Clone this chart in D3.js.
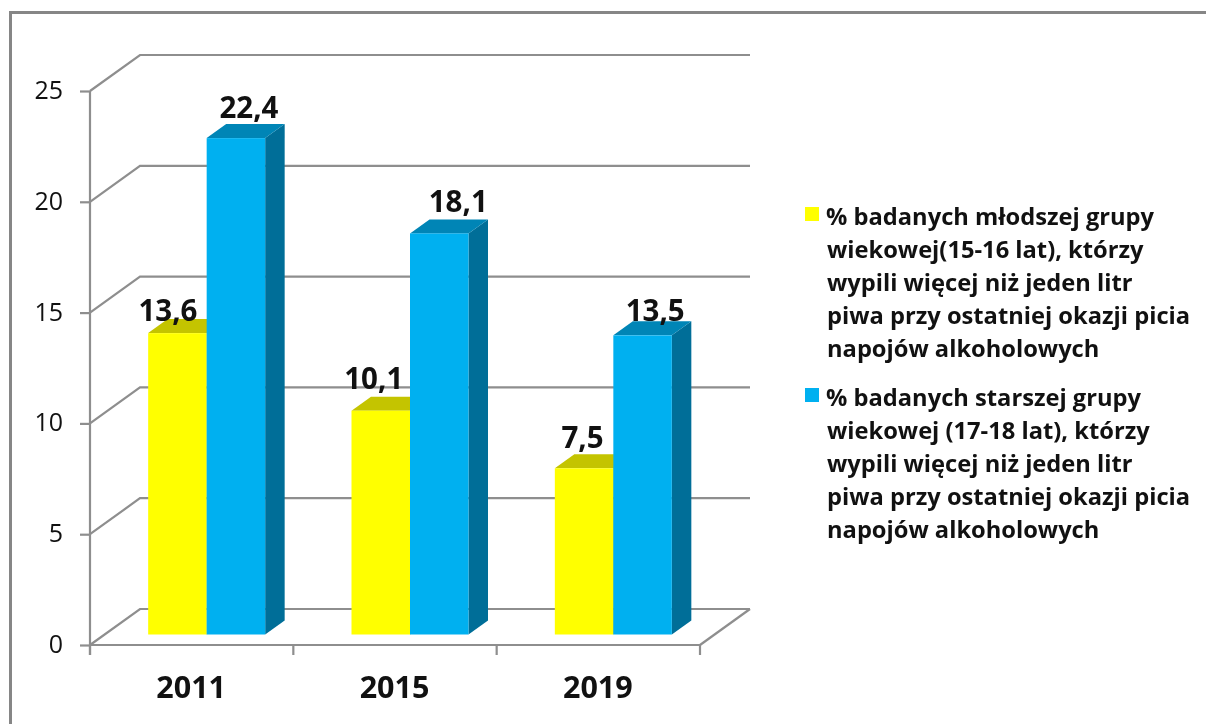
<!DOCTYPE html>
<html><head><meta charset="utf-8">
<script src="https://cdn.jsdelivr.net/npm/d3@7"></script>
<style>html,body{margin:0;padding:0;background:#fff;overflow:hidden}svg{display:block;filter:blur(0.45px)}
text{font-family:"Open Sans","Noto Sans",sans-serif;fill:#111}</style></head><body>
<svg id="c" width="1206" height="724"></svg>
<script>
const categories = ["2011","2015","2019"];
const younger = [13.6,10.1,7.5];
const older = [22.4,18.1,13.5];
const yTicks = [0,5,10,15,20,25];
const valueLabels = [["13,6","10,1","7,5"],["22,4","18,1","13,5"]];
const legendYounger = ["% badanych młodszej grupy","wiekowej(15-16 lat), którzy","wypili więcej niż jeden litr","piwa przy ostatniej okazji picia","napojów alkoholowych"];
const legendOlder = ["% badanych starszej grupy","wiekowej (17-18 lat), którzy","wypili więcej niż jeden litr","piwa przy ostatniej okazji picia","napojów alkoholowych"];
const seriesColors = [
 {front:"#FFFF00",top:"#C4C400",side:"#A8A800"},
 {front:"#00B0F0",top:"#0085B6",side:"#006E98"}];
const grey = "#8E8E8E";

const svg = d3.select("#c");
// outer frame
svg.append("path").attr("d","M10.5,760V12.5H1240").attr("fill","none").attr("stroke","#868686").attr("stroke-width",3);

const y = d3.scaleLinear().domain([0,25]).range([645,91]);
const x = d3.scaleBand().domain(categories).range([90,700]);
const wallDx = 50, wallDy = -36;      // depth of the chart box
const barDx = 15, barDy = -10.5;      // bar front plane shift
const depthDx = 19.5, depthDy = -14;  // bar depth
const barW = 58.5;
const inner = d3.scaleBand().domain([0,1]).range([-barW,barW]);

// walls and gridlines
const g = svg.append("g").attr("fill","none").attr("stroke",grey).attr("stroke-width",2.2);
yTicks.forEach(t=>{
  g.append("path").attr("d",`M${x.range()[0]},${y(t)}L${x.range()[0]+wallDx},${y(t)+wallDy}H${x.range()[1]+wallDx}`);
});
g.append("path").attr("d",`M${x.range()[1]+wallDx},${y(0)+wallDy}L${x.range()[1]},${y(0)}`);

// axes
const axY = d3.axisLeft(y).tickValues(yTicks).tickSize(10).tickPadding(6);
const gy = svg.append("g").attr("transform","translate(90,0)").call(axY);
gy.select(".domain").attr("d",`M0,${y(25)}V655`).attr("stroke",grey).attr("stroke-width",2.2);
gy.selectAll(".tick line").attr("stroke",grey).attr("stroke-width",2.2);
gy.selectAll(".tick text").attr("font-size",25).attr("font-family","Open Sans").attr("fill","#222").attr("dx",-11).attr("dy","0.3em");

const axX = d3.axisBottom(x).tickSize(0).tickPadding(24);
const gx = svg.append("g").attr("transform","translate(0,645)").call(axX);
gx.select(".domain").attr("d","M90,0H700").attr("stroke",grey).attr("stroke-width",2.2);
gx.selectAll(".tick text").attr("font-size",30.5).attr("font-weight",700).attr("font-family","Open Sans").attr("fill","#111").attr("dy","0.95em");
gx.selectAll(".tick").attr("transform",c=>`translate(${x(c)+x.bandwidth()/2-0.5},0)`);
[...x.domain().map(c=>x(c)), x.range()[1]].forEach(px=>{
  gx.append("line").attr("x1",px).attr("x2",px).attr("y1",0).attr("y2",10).attr("stroke",grey).attr("stroke-width",2.2);
});

// bars
const series = [younger, older];
const labelDx = [[-9.5,-7,-1.5],[13,19,12.6]];
const labelDy = [[-12,-21.7,-20.6],[-20.6,-21.4,-14.6]];
const bars = svg.append("g");
const y0 = y(0)+barDy;
series.forEach((vals,si)=>{
  const col = seriesColors[si];
  vals.forEach((v,ci)=>{
    const bx = x(categories[ci]) + x.bandwidth()/2 + barDx + inner(si);
    const top = y(v)+barDy;
    const gb = bars.append("g");
    gb.append("path").attr("fill",col.side).attr("d",`M${bx+barW},${y0}V${top}l${depthDx},${depthDy}V${y0+depthDy}Z`);
    gb.append("path").attr("fill",col.top).attr("d",`M${bx},${top}h${barW}l${depthDx},${depthDy}h${-barW}Z`);
    gb.append("rect").attr("x",bx).attr("y",top).attr("width",barW).attr("height",y0-top).attr("fill",col.front);
  });
});
// value labels above the bars
series.forEach((vals,si)=>{
  vals.forEach((v,ci)=>{
    const bx = x(categories[ci]) + x.bandwidth()/2 + barDx + inner(si);
    svg.append("text").text(valueLabels[si][ci])
      .attr("x",bx+barW/2+labelDx[si][ci]).attr("y",y(v)+barDy+labelDy[si][ci])
      .attr("text-anchor","middle").attr("font-size",29.5).attr("font-weight",700).attr("fill","#000");
  });
});

// legend
function legend(lines,color,top){
  svg.append("rect").attr("x",805).attr("y",top-9).attr("width",14).attr("height",14).attr("fill",color);
  lines.forEach((l,i)=>{
    svg.append("text").text(l).attr("x",i==0?826:827).attr("y",top+9+i*33.1)
      .attr("font-size",23.7).attr("font-weight",700).attr("fill","#1a1a1a");
  });
}
legend(legendYounger,seriesColors[0].front,216);
legend(legendOlder,seriesColors[1].front,397);
</script></body></html>
